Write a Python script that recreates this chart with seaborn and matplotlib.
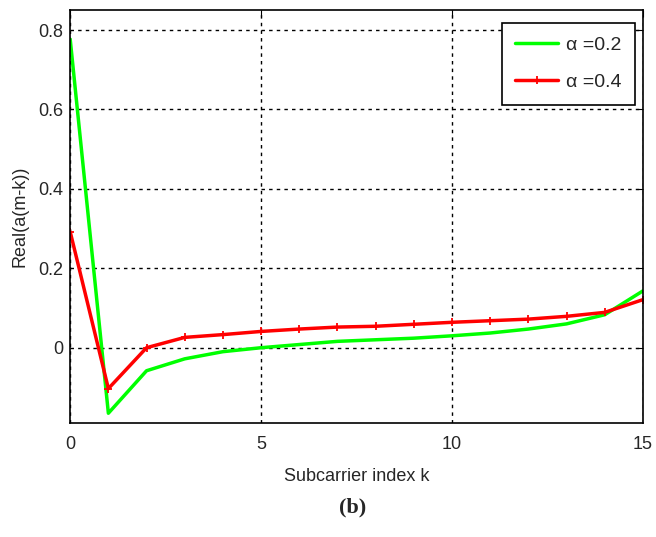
import matplotlib
matplotlib.use("Agg")
import matplotlib.pyplot as plt
import seaborn as sns
import pandas as pd

# values
k = list(range(16))
alpha_02 = [0.777, -0.165, -0.058, -0.028, -0.010, 0.000, 0.008, 0.016,
            0.020, 0.024, 0.030, 0.037, 0.047, 0.060, 0.083, 0.143]
alpha_04 = [0.292, -0.103, 0.000, 0.026, 0.033, 0.041, 0.047, 0.052,
            0.054, 0.059, 0.064, 0.068, 0.072, 0.079, 0.089, 0.121]
labels = ["\u03b1 =0.2", "\u03b1 =0.4"]

df02 = pd.DataFrame({"k": k, "val": alpha_02})
df04 = pd.DataFrame({"k": k, "val": alpha_04})

sns.set_style("white")
plt.rcParams['font.family'] = ['Liberation Sans', 'DejaVu Sans']

fig = plt.figure(figsize=(6.56, 5.37), dpi=100)
ax = fig.add_axes([0.107, 0.212, 0.873, 0.769])

sns.lineplot(data=df02, x="k", y="val", color="#00ff00", linewidth=2.5,
             label=labels[0], ax=ax)
sns.lineplot(data=df04, x="k", y="val", color="#ff0000", linewidth=2.5,
             marker="+", markersize=6, markeredgewidth=1.3,
             markeredgecolor="#ff0000", label=labels[1], ax=ax)

ax.set_xlim(0, 15)
ax.set_ylim(-0.19, 0.85)
ax.set_xticks([0, 5, 10, 15])
ax.set_yticks([0, 0.2, 0.4, 0.6, 0.8])
ax.set_yticklabels(["0", "0.2", "0.4", "0.6", "0.8"])
ax.grid(True, color="black", linestyle=(0, (2.5, 3)), linewidth=1)
ax.tick_params(direction="in", top=True, right=True, labelsize=13,
               length=5, color="black")
ax.tick_params(axis="x", pad=9)
ax.tick_params(axis="y", pad=5)
for s in ax.spines.values():
    s.set_color("black")
    s.set_linewidth(1.2)

ax.set_xlabel("Subcarrier index k", fontsize=13, labelpad=11)
ax.set_ylabel("Real(a(m-k))", fontsize=13, labelpad=7)

leg = ax.legend(loc="upper right", fontsize=14, frameon=True, fancybox=False,
                edgecolor="black", framealpha=1, handlelength=2.2,
                borderpad=0.7, labelspacing=1.0, handletextpad=0.4,
                borderaxespad=0, bbox_to_anchor=(0.986, 0.969))
leg.get_frame().set_linewidth(1.2)

fig.text(0.538, 0.055, "(b)", fontsize=16, fontweight="bold",
         family="Liberation Serif", ha="center", va="center")

fig.savefig("out.png", dpi=100)
